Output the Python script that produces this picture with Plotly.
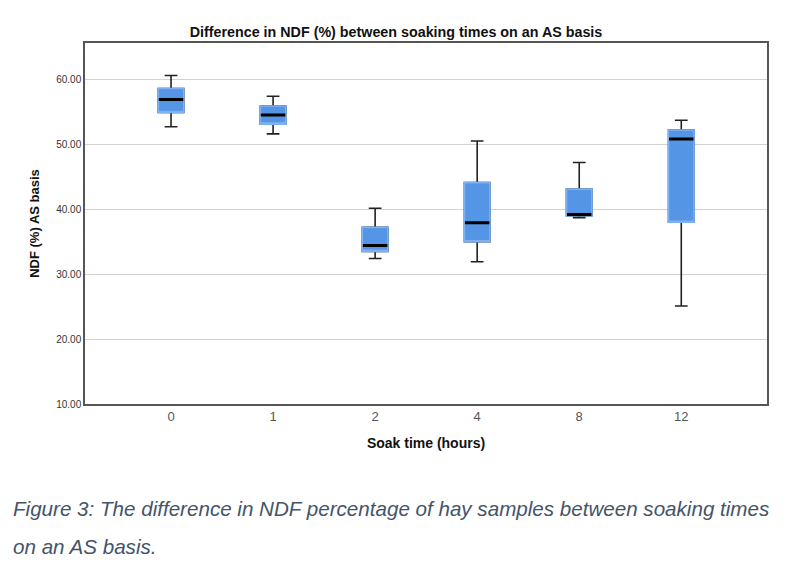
import plotly.graph_objects as go

# soak time groups and box statistics (NDF %, AS basis)
soak_times = ['0', '1', '2', '4', '8', '12']
lower_whisker = [52.7, 51.6, 32.4, 31.9, 38.7, 25.1]
q1 = [54.9, 53.1, 33.5, 35.0, 39.0, 38.0]
median = [56.9, 54.5, 34.4, 37.9, 39.2, 50.8]
q3 = [58.6, 55.9, 37.2, 44.1, 43.1, 52.2]
upper_whisker = [60.6, 57.4, 40.15, 50.5, 47.2, 53.7]

y_ticks = [10, 20, 30, 40, 50, 60]

box_fill = '#5595e5'
box_edge = '#7fb1f2'
dark = '#222222'

fig = go.Figure()

# whiskers and caps (dark)
fig.add_trace(go.Box(
    x=soak_times, q1=q1, median=median, q3=q3,
    lowerfence=lower_whisker, upperfence=upper_whisker,
    width=0.25, whiskerwidth=0.5,
    fillcolor=box_fill, line=dict(color=dark, width=1.6),
    hoverinfo='skip', showlegend=False,
))

# box body with the lighter blue edge, covers the dark outline
fig.add_trace(go.Box(
    x=soak_times, q1=q1, median=q1, q3=q3,
    lowerfence=q1, upperfence=q3,
    width=0.25, whiskerwidth=0,
    fillcolor=box_fill, line=dict(color=box_edge, width=1.6),
    hoverinfo='skip', showlegend=False,
))

# black median bar
fig.add_trace(go.Box(
    x=soak_times, q1=median, median=median, q3=median,
    lowerfence=median, upperfence=median,
    width=0.24, whiskerwidth=0,
    fillcolor='black', line=dict(color='black', width=3),
    hoverinfo='skip', showlegend=False,
))

# page body adds an 8px offset, margins below make up for it
fig.update_layout(
    width=800, height=567,
    margin=dict(l=77, r=41, t=35, b=171),
    paper_bgcolor='white', plot_bgcolor='white',
    boxmode='overlay',
    font=dict(family='Liberation Sans, Arial, sans-serif', color='#222222'),
    title=dict(
        text='<b>Difference in NDF (%) between soaking times on an AS basis</b>',
        x=0.485, xanchor='center', y=0.958, yanchor='middle',
        font=dict(size=14.3, color='#111111'),
    ),
)

fig.update_xaxes(
    type='category', range=[-0.843, 5.84],
    showgrid=False, ticks='', tickfont=dict(size=13, color='#555555'),
    showline=True, linecolor='#555555', linewidth=1.5, mirror=True,
    title=dict(text='<b>Soak time (hours)</b>', font=dict(size=14, color='#111111'), standoff=15),
)

fig.update_yaxes(
    range=[10, 65.6], tickvals=y_ticks, tickformat='.2f',
    showgrid=True, gridcolor='#d2d2d2', gridwidth=1.2,
    zeroline=False, ticks='', tickfont=dict(size=10, color='#333333'),
    showline=True, linecolor='#555555', linewidth=1.5, mirror=True,
    title=dict(text='<b>NDF (%) AS basis</b>', font=dict(size=13, color='#111111'), standoff=14),
)

# figure caption under the chart
caption_font = dict(family='Liberation Sans, Arial, sans-serif', size=20.6, color='#44546a')
fig.add_annotation(
    text='<i>Figure 3: The difference in NDF percentage of hay samples between soaking times</i>',
    xref='paper', yref='paper', x=-0.108, y=-0.29,
    xanchor='left', yanchor='middle', showarrow=False, font=caption_font,
)
fig.add_annotation(
    text='<i>on an AS basis.</i>',
    xref='paper', yref='paper', x=-0.108, y=-0.395,
    xanchor='left', yanchor='middle', showarrow=False, font=caption_font,
)

fig.write_html('out.html')
